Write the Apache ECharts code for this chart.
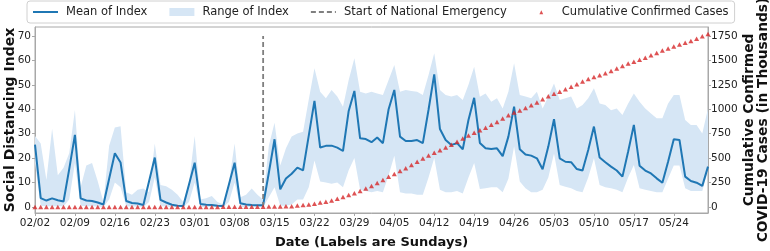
<!DOCTYPE html>
<html>
<head>
<meta charset="utf-8">
<script src="https://cdn.jsdelivr.net/npm/echarts@6/dist/echarts.min.js"></script>
<style>
html, body { margin:0; padding:0; background:#fff; }
#chart { width:770px; height:251px; }
</style>
</head>
<body>
<div id="chart"></div>
<script>
// daily categories, 02/02 .. 05/30
const dates = [];
const d0 = new Date(2020, 1, 2);
for (let i = 0; i < 119; i++) {
    const d = new Date(d0.getFullYear(), d0.getMonth(), d0.getDate() + i);
    dates.push(String(d.getMonth() + 1).padStart(2, '0') + '/' + String(d.getDate()).padStart(2, '0'));
}
const emergencyDay = '03/13';

const meanIndex = [
    25.5, 3.6, 2.6, 3.5, 2.7, 2.2, 15.5,
    29.5, 3.5, 2.6, 2.4, 1.8, 1.0, 11.5,
    22.0, 18.2, 2.4, 1.6, 1.4, 0.8, 10.5,
    20.2, 2.9, 1.8, 0.9, 0.5, 0.4, 9.2,
    18.1, 1.2, 0.9, 0.8, 0.5, 0.4, 9.2,
    18.1, 1.5, 1.0, 0.8, 0.7, 0.7, 14.0,
    27.7, 7.2, 11.6, 13.6, 16.1, 15.0, 29.2,
    43.4, 24.3, 25.0, 25.1, 24.3, 22.9, 39.3,
    47.5, 28.1, 27.8, 26.5, 28.4, 26.1, 40.0,
    47.9, 28.8, 27.0, 27.0, 27.4, 26.1, 39.8,
    54.3, 31.9, 27.4, 25.4, 26.1, 23.6, 35.6,
    44.7, 26.2, 24.0, 23.7, 24.0, 20.8, 28.8,
    41.1, 23.6, 21.5, 21.0, 19.9, 15.4, 24.7,
    35.9, 19.9, 18.5, 18.3, 15.5, 14.9, 23.3,
    32.9, 20.2, 18.3, 16.5, 14.9, 12.4, 22.7,
    33.6, 16.9, 14.9, 13.7, 11.7, 9.9, 18.5,
    27.7, 27.4, 12.4, 10.6, 9.9, 8.6, 16.5
];
const rangeLow = [
    18, 0.5, 0.3, 0.3, 0.3, 0.3, 3,
    18, 0.5, 0.3, 0.3, 0.2, 0, 3,
    10, 8, 0.3, 0.2, 0.2, 0, 2,
    12, 0.3, 0.2, 0, 0, 0, 2,
    10, 0, 0, 0, 0, 0, 2,
    10, 0, 0, 0, 0, 0, 4,
    8, 0.5, 0.5, 1, 3, 3, 8,
    19, 10.4, 10, 9.5, 10, 8, 15,
    20, 7, 6.5, 6, 6.5, 6, 13,
    21, 6, 5.5, 5.5, 5, 5, 12,
    20, 7, 6, 6, 6.5, 5.5, 12,
    18, 7.3, 7.6, 8, 8, 6, 11.5,
    24.8, 10.4, 7.6, 6, 6, 7, 12,
    21.9, 9, 8.3, 7.6, 6.5, 6, 12,
    19.9, 9, 8, 7.6, 7, 6, 12,
    17.2, 7.6, 7, 6.5, 6, 6, 11.5,
    17, 17, 7.6, 6.5, 6.5, 6.5, 15
];
const rangeHigh = [
    29, 26, 11, 32, 13, 16, 22,
    39.7, 8, 17, 18, 10.5, 2, 25,
    32.5, 33, 6, 5, 7, 7.5, 6,
    26, 9, 8.5, 7, 5, 2, 10,
    29, 3, 3.5, 4.5, 2, 1, 10,
    26, 4, 5, 7.5, 5, 3, 25,
    34.5, 17, 24, 28.8, 30.1, 30.8, 44,
    56.8, 47.2, 44.5, 47.9, 45.2, 41, 52,
    60.9, 47.2, 46.5, 47.2, 46.5, 45.8, 52,
    58.1, 47.2, 47.9, 47.5, 47.2, 45.8, 54,
    62.9, 47.9, 45.8, 45.2, 45.8, 43.8, 50,
    57.4, 45.1, 46.5, 43.1, 44.5, 40.3, 47.2,
    58.8, 45.8, 45.2, 44.5, 47.2, 40.3, 45.2,
    50.6, 43.8, 44.5, 45.2, 40.3, 41.7, 44.5,
    48.6, 42.4, 41.7, 39.6, 40.3, 37.6, 42.4,
    46.5, 43.1, 40.3, 38.3, 36.3, 36.3, 42.4,
    45.8, 45.8, 35.6, 33.6, 33.6, 30.1, 40.3
];
// cumulative confirmed cases, thousands
const casesK = [
    0.01, 0.01, 0.01, 0.01, 0.01, 0.01, 0.01,
    0.01, 0.01, 0.01, 0.01, 0.01, 0.01, 0.01,
    0.02, 0.02, 0.02, 0.02, 0.02, 0.02, 0.02,
    0.03, 0.03, 0.04, 0.05, 0.05, 0.06, 0.07,
    0.08, 0.1, 0.12, 0.16, 0.22, 0.32, 0.42,
    0.54, 0.6, 0.96, 1.3, 1.7, 2.2, 2.8,
    3.5, 4.6, 6.4, 7.8, 13.7, 19.1, 25.5,
    33.3, 43.8, 53.7, 65.8, 83.8, 101.7, 121.5,
    140.9, 161.8, 188.2, 213.4, 243.6, 275.6, 308.9,
    337.1, 366.6, 396.2, 429.1, 461.4, 496.5, 526.4,
    555.3, 580.6, 607.7, 636.4, 667.8, 699.7, 732.2,
    758.8, 784.3, 811.9, 840.4, 869.2, 905.4, 938.2,
    965.8, 988.2, 1012.6, 1039.9, 1069.4, 1103.5, 1132.5,
    1158.0, 1180.4, 1204.4, 1229.3, 1257.0, 1283.9, 1309.5,
    1329.3, 1347.9, 1369.4, 1390.7, 1417.8, 1443.0, 1467.8,
    1486.8, 1508.3, 1528.6, 1551.9, 1577.1, 1600.9, 1622.6,
    1643.2, 1662.3, 1681.4, 1699.9, 1721.8, 1747.8, 1771.0
];
const leftTicks = [0, 10, 20, 30, 40, 50, 60, 70];
const rightTicks = [0, 250, 500, 750, 1000, 1250, 1500, 1750];

const FONT = 'DejaVu Sans';
const frameColor = '#a8a8a8';
const bandColor = '#d6e6f5';
// legend handles drawn as flat paths (25x8 box)
const solidIcon = 'path://M0,0M25,8M0,3L25,3L25,5L0,5Z';
const dashIcon = 'path://M0,0M25,8M0,3L5,3L5,5L0,5ZM8,3L13,3L13,5L8,5ZM16,3L21,3L21,5L16,5ZM24,3L25,3L25,5L24,5Z';
const triIcon = 'path://M0,0M25,8M10.6,6.3L12.5,2.3L14.4,6.3Z';

let chart = echarts.init(document.getElementById('chart'));
let option = {
    animation: false,
    textStyle: { fontFamily: FONT },
    legend: {
        left: 27,
        top: 1,
        padding: [5, 6, 5, 6],
        itemWidth: 25,
        itemHeight: 8,
        itemGap: 22,
        borderColor: '#d0d0d0',
        borderWidth: 1,
        borderRadius: 3,
        textStyle: { fontSize: 11.5, color: '#222', padding: [0, 0, 0, 3] },
        data: [
            { name: 'Mean of Index', icon: solidIcon },
            { name: 'Range of Index', icon: 'rect' },
            { name: 'Start of National Emergency', icon: dashIcon },
            { name: 'Cumulative Confirmed Cases', icon: triIcon }
        ]
    },
    grid: {
        left: 35,
        right: 62,
        top: 27,
        bottom: 38,
        show: true,
        borderColor: frameColor,
        borderWidth: 1,
        outerBoundsMode: 'none'
    },
    xAxis: {
        type: 'category',
        data: dates,
        boundaryGap: false,
        name: 'Date (Labels are Sundays)',
        nameLocation: 'middle',
        nameGap: 23,
        nameTextStyle: { fontSize: 13, fontWeight: 'bold', color: '#111' },
        axisLine: { onZero: false, lineStyle: { color: frameColor } },
        axisTick: { interval: 6, length: 3, lineStyle: { color: frameColor } },
        axisLabel: { interval: 6, fontSize: 10.5, color: '#222', margin: 5 },
        splitLine: { show: false }
    },
    yAxis: [
        {
            type: 'value',
            min: -2.5,
            max: 73.7,
            name: 'Social Distancing Index',
            nameLocation: 'middle',
            nameGap: 18,
            nameMoveOverlap: false,
            nameTextStyle: { fontSize: 14, fontWeight: 'bold', color: '#111' },
            axisLine: { show: true, lineStyle: { color: frameColor } },
            axisTick: { show: true, length: 3, customValues: leftTicks, lineStyle: { color: frameColor } },
            axisLabel: { customValues: leftTicks, fontSize: 10.5, color: '#222', margin: 4 },
            splitLine: { show: false }
        },
        {
            type: 'value',
            min: -62.5,
            max: 1842.5,
            position: 'right',
            name: 'Cumulative Confirmed\nCOVID-19 Cases (in Thousands)',
            nameLocation: 'middle',
            nameGap: 35,
            nameMoveOverlap: false,
            nameTextStyle: { fontSize: 13.8, fontWeight: 'bold', color: '#111', lineHeight: 13.5 },
            axisLine: { show: true, lineStyle: { color: frameColor } },
            axisTick: { show: true, length: 3, customValues: rightTicks, lineStyle: { color: frameColor } },
            axisLabel: { customValues: rightTicks, fontSize: 10.5, color: '#222', margin: 3, formatter: v => String(v) },
            splitLine: { show: false }
        }
    ],
    series: [
        {
            name: 'rangeBase',
            type: 'line',
            stack: 'range',
            data: rangeLow,
            symbol: 'none',
            silent: true,
            lineStyle: { opacity: 0 }
        },
        {
            name: 'Range of Index',
            type: 'line',
            stack: 'range',
            data: rangeHigh.map((v, i) => +(v - rangeLow[i]).toFixed(2)),
            symbol: 'none',
            color: bandColor,
            itemStyle: { color: bandColor },
            lineStyle: { opacity: 0 },
            areaStyle: { color: bandColor, opacity: 1 }
        },
        {
            name: 'Mean of Index',
            type: 'line',
            data: meanIndex,
            symbol: 'none',
            color: '#1f77b4',
            itemStyle: { color: '#1f77b4' },
            lineStyle: { width: 2, color: '#1f77b4' },
            z: 3
        },
        {
            name: 'Start of National Emergency',
            type: 'line',
            data: [[emergencyDay, 0], [emergencyDay, 70]],
            symbol: 'none',
            color: '#7f7f7f',
            itemStyle: { color: '#7f7f7f' },
            lineStyle: { width: 1.8, type: [5, 3], color: '#7f7f7f' },
            z: 4
        },
        {
            name: 'Cumulative Confirmed Cases',
            type: 'scatter',
            yAxisIndex: 1,
            data: casesK,
            symbol: 'triangle',
            symbolSize: [5, 4.5],
            color: '#d62728',
            itemStyle: { color: '#d62728' },
            z: 10
        }
    ]
};
chart.setOption(option);
</script>
</body>
</html>
